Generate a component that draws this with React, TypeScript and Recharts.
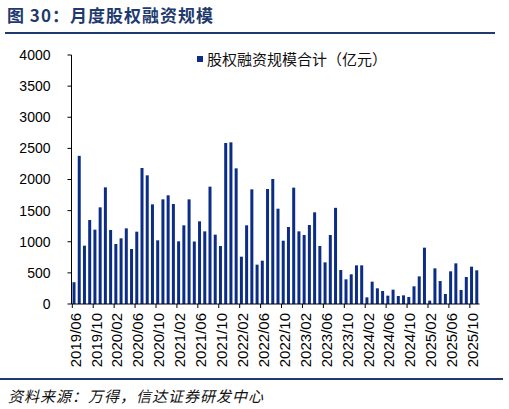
import React from "react";
import { BarChart, Bar, XAxis, YAxis } from "recharts";

// months 2019/06 .. 2025/11
const months = [
	"2019/06", "2019/07", "2019/08", "2019/09", "2019/10", "2019/11", "2019/12",
	"2020/01", "2020/02", "2020/03", "2020/04", "2020/05", "2020/06", "2020/07", "2020/08", "2020/09", "2020/10", "2020/11", "2020/12",
	"2021/01", "2021/02", "2021/03", "2021/04", "2021/05", "2021/06", "2021/07", "2021/08", "2021/09", "2021/10", "2021/11", "2021/12",
	"2022/01", "2022/02", "2022/03", "2022/04", "2022/05", "2022/06", "2022/07", "2022/08", "2022/09", "2022/10", "2022/11", "2022/12",
	"2023/01", "2023/02", "2023/03", "2023/04", "2023/05", "2023/06", "2023/07", "2023/08", "2023/09", "2023/10", "2023/11", "2023/12",
	"2024/01", "2024/02", "2024/03", "2024/04", "2024/05", "2024/06", "2024/07", "2024/08", "2024/09", "2024/10", "2024/11", "2024/12",
	"2025/01", "2025/02", "2025/03", "2025/04", "2025/05", "2025/06", "2025/07", "2025/08", "2025/09", "2025/10", "2025/11"
];

// 股权融资规模合计（亿元）
const totals = [
	350, 2380, 937, 1349, 1194, 1553, 1874,
	1189, 964, 1055, 1215, 884, 1162, 2185, 2067, 1601, 1023, 1681, 1746,
	1606, 1007, 1264, 1681, 1004, 1328, 1167, 1885, 1114, 932, 2586, 2597,
	2179, 760, 1264, 1842, 632, 696, 1847, 2008, 1531, 1017, 1237, 1869,
	1167, 1108, 1269, 1473, 932, 669, 1108, 1545, 546, 396, 477, 621,
	621, 107, 359, 252, 209, 134, 230, 129, 139, 112, 284, 444,
	905, 54, 573, 369, 161, 525, 653, 225, 434, 600, 541
];

const yTicks = [0, 500, 1000, 1500, 2000, 2500, 3000, 3500, 4000];

const seriesName = "股权融资规模合计（亿元）";

const data = months.map((m, i) => ({ month: m, total: totals[i] }));

const navy = "#1F3A6E";
const barColor = "#0C2D85";

const W = 509;
const H = 409;
const plotLeft = 71.5;
const plotRight = 479.5;
const plotTop = 55;
const plotBottom = 304;
const band = (plotRight - plotLeft) / months.length;

const XTick = (props: any) => {
	const { x, y, payload } = props;
	const tx = x - band / 2 + 0.8;
	return (
		<g>
			<line x1={tx} x2={tx} y1={plotBottom} y2={plotBottom + 4} stroke="#000" strokeWidth={1} />
			<text
				x={x + 1}
				y={y}
				transform={`rotate(-90, ${x + 1}, ${y})`}
				textAnchor="end"
				dominantBaseline="central"
				fontSize={15}
				fill="#000"
				fontFamily="Liberation Sans, Arial, sans-serif"
			>
				{payload.value}
			</text>
		</g>
	);
};

const App = () => {
	return (
		<div style={{ position: "absolute", left: 0, top: 0, width: W, height: H, background: "#fff", overflow: "hidden" }}>
			<div
				style={{
					position: "absolute",
					left: 7,
					top: 2,
					fontSize: 17,
					fontWeight: "bold",
					color: navy,
					letterSpacing: 1,
					fontFamily: "Noto Sans CJK SC, sans-serif",
					whiteSpace: "nowrap"
				}}
			>
				图 30：月度股权融资规模
			</div>
			<div style={{ position: "absolute", left: 5, top: 32, width: 490, height: 2, background: navy }} />
			<BarChart
				width={W}
				height={H}
				data={data}
				margin={{ top: plotTop, right: W - plotRight, bottom: H - plotBottom - 70, left: plotLeft - 60 }}
				barCategoryGap={0}
			>
				<XAxis
					dataKey="month"
					interval={3}
					height={70}
					tickLine={false}
					tickSize={4}
					tickMargin={5}
					axisLine={{ stroke: "#000", strokeWidth: 1 }}
					tick={<XTick />}
				/>
				<YAxis
					width={60}
					domain={[0, 4000]}
					ticks={yTicks}
					interval={0}
					tickSize={4}
					tickMargin={17}
					axisLine={{ stroke: "#000", strokeWidth: 1 }}
					tickLine={{ stroke: "#000" }}
					tick={{ fontSize: 14, fill: "#000", fontFamily: "Liberation Sans, Arial, sans-serif" }}
				/>
				<Bar dataKey="total" name={seriesName} fill={barColor} barSize={3} isAnimationActive={false} />
			</BarChart>
			<div
				style={{
					position: "absolute",
					left: 197,
					top: 48,
					display: "flex",
					alignItems: "center",
					fontSize: 15,
					color: "#111",
					fontFamily: "Noto Sans CJK SC, sans-serif",
					whiteSpace: "nowrap"
				}}
			>
				<span style={{ display: "inline-block", width: 6, height: 6, background: barColor, marginRight: 4 }} />
				<span>{seriesName}</span>
			</div>
			<div style={{ position: "absolute", left: 0, top: 378, width: 503, height: 2, background: navy }} />
			<div
				style={{
					position: "absolute",
					left: 8,
					top: 385,
					fontSize: 15,
					fontStyle: "italic",
					color: "#111",
					letterSpacing: 1,
					fontFamily: "Noto Sans CJK SC, sans-serif",
					whiteSpace: "nowrap"
				}}
			>
				资料来源：万得，信达证券研发中心
			</div>
		</div>
	);
};

export default App;
